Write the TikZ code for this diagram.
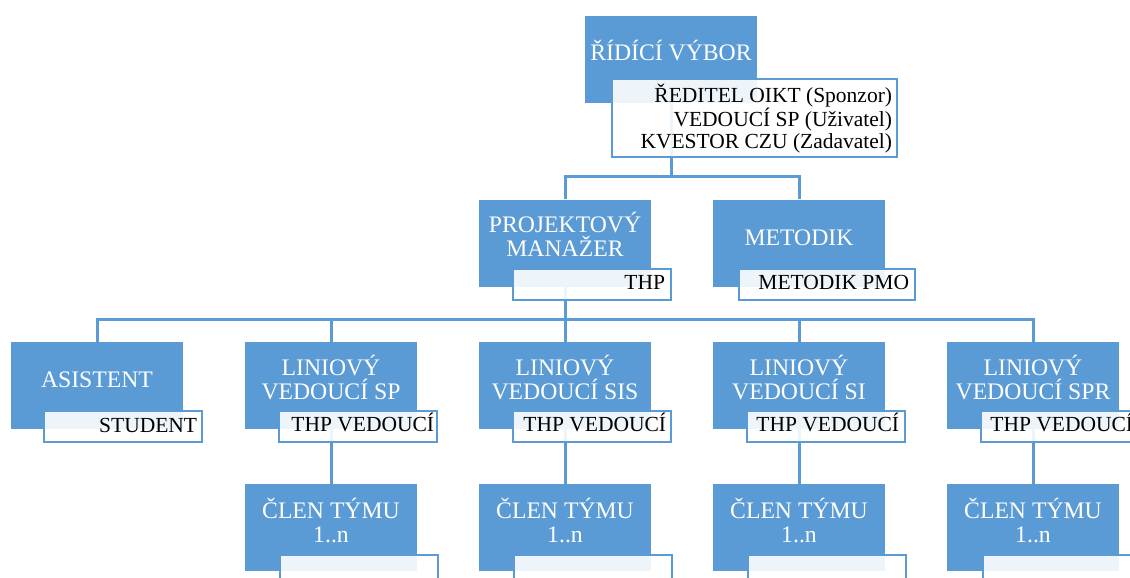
\documentclass[tikz,border=0pt]{standalone}
\usepackage{fontspec}
\setmainfont{Liberation Serif}
\usetikzlibrary{backgrounds}
\definecolor{accent}{HTML}{5B9BD5}
% invisible strut fixing the height of a label's first line
\newcommand{\fl}{\rule{0pt}{24pt}}
\newcommand{\fb}{\rule{0pt}{20pt}}

\begin{document}
\begin{tikzpicture}[x=1pt,y=-1pt,
  conn/.style={draw=accent,line width=3pt},
  rolebox/.style={rectangle,fill=accent,minimum width=172pt,minimum height=87pt,inner sep=0pt},
  namebox/.style={rectangle,fill=white,fill opacity=0.9,draw=accent,line width=2.3pt,
    inner sep=0pt,anchor=north west,minimum height=31pt,minimum width=158pt},
  roletext/.style={text=white,font=\fontsize{23.7}{24}\selectfont,align=center,inner sep=0pt,anchor=north},
  nametext/.style={text=black,font=\fontsize{21.5}{22.5}\selectfont,inner sep=0pt,anchor=base east},
]
\useasboundingbox (0,0) rectangle (1130,578);
\clip (0,0) rectangle (1130,578);

% role boxes
\node[rolebox] (rv)   at (671,59.5) {};
\node[rolebox] (pm)   at (565,243) {};
\node[rolebox] (met)  at (799,243) {};
\node[rolebox] (asi)  at (97,385.5) {};
\node[rolebox] (sp)   at (331,385.5) {};
\node[rolebox] (sis)  at (565,385.5) {};
\node[rolebox] (si)   at (799,385.5) {};
\node[rolebox] (spr)  at (1033,385.5) {};
\node[rolebox] (csp)  at (331,527.5) {};
\node[rolebox] (csis) at (565,527.5) {};
\node[rolebox] (csi)  at (799,527.5) {};
\node[rolebox] (cspr) at (1033,527.5) {};

% name boxes
\node[namebox,minimum width=285pt,minimum height=78pt] (rvw) at (611,78) {};
\node[namebox] (pmw)   at (512,268) {};
\node[namebox,minimum width=176pt] (metw) at (738,268) {};
\node[namebox] (asiw)  at (43,410) {};
\node[namebox] (spw)   at (278,410) {};
\node[namebox] (sisw)  at (512,410) {};
\node[namebox] (siw)   at (746,410) {};
\node[namebox] (sprw)  at (980,410) {};
\node[namebox] (cspw)  at (279,554) {};
\node[namebox] (csisw) at (513,554) {};
\node[namebox] (csiw)  at (747,554) {};
\node[namebox] (csprw) at (982,554) {};

% role titles
\node[roletext] (rvt)   at ([yshift=-21pt]rv.north)  {\fl ŘÍDÍCÍ VÝBOR};
\node[roletext] (pmt)   at ([yshift=-9pt]pm.north)   {\fl PROJEKTOVÝ\\MANAŽER};
\node[roletext] (mett)  at ([yshift=-22pt]met.north) {\fl METODIK};
\node[roletext] (asit)  at ([yshift=-21pt]asi.north) {\fl ASISTENT};
\node[roletext] (spt)   at ([yshift=-9pt]sp.north)   {\fl LINIOVÝ\\VEDOUCÍ SP};
\node[roletext] (sist)  at ([yshift=-9pt]sis.north)  {\fl LINIOVÝ\\VEDOUCÍ SIS};
\node[roletext] (sit)   at ([yshift=-9pt]si.north)   {\fl LINIOVÝ\\VEDOUCÍ SI};
\node[roletext] (sprt)  at ([yshift=-9pt]spr.north)  {\fl LINIOVÝ\\VEDOUCÍ SPR};
\node[roletext] (cspt)  at ([yshift=-10pt]csp.north)  {\fl ČLEN TÝMU\\1..n};
\node[roletext] (csist) at ([yshift=-10pt]csis.north) {\fl ČLEN TÝMU\\1..n};
\node[roletext] (csit)  at ([yshift=-10pt]csi.north)  {\fl ČLEN TÝMU\\1..n};
\node[roletext] (csprt) at ([yshift=-10pt]cspr.north) {\fl ČLEN TÝMU\\1..n};

% names of the people in each role
\node[nametext,anchor=north east,align=right] (rvn) at ([xshift=-6pt,yshift=-4pt]rvw.north east)
  {\fb ŘEDITEL OIKT (Sponzor)\\VEDOUCÍ SP (Uživatel)\\KVESTOR CZU (Zadavatel)};
\node[nametext] (pmn)  at ([xshift=-7pt,yshift=-21.5pt]pmw.north east)  {THP};
\node[nametext] (metn) at ([xshift=-7pt,yshift=-21.5pt]metw.north east) {METODIK PMO};
\node[nametext] (asin) at ([xshift=-6pt,yshift=-22pt]asiw.north east)   {STUDENT};
\node[nametext] (spn)  at ([xshift=-4pt,yshift=-21.5pt]spw.north east)  {THP VEDOUCÍ};
\node[nametext] (sisn) at ([xshift=-6pt,yshift=-21.5pt]sisw.north east) {THP VEDOUCÍ};
\node[nametext] (sin)  at ([xshift=-7pt,yshift=-21.5pt]siw.north east)  {THP VEDOUCÍ};
\node[nametext] (sprn) at ([xshift=-7pt,yshift=-21.5pt]sprw.north east) {THP VEDOUCÍ};

% reporting lines
\begin{scope}[on background layer]
  \coordinate (bus1) at (671,176);
  \coordinate (bus2) at (565,319);
  \draw[conn] (rv.south) -- (bus1);
  \draw[conn] (pm.north) |- (bus1) -| (met.north);
  \draw[conn] (pm.south) -- (sis.north);
  \draw[conn] (asi.north) |- (bus2) -| (spr.north);
  \draw[conn] (sp.north) -- (sp.north |- bus2);
  \draw[conn] (si.north) -- (si.north |- bus2);
  \draw[conn] (sp.south)  -- (csp.north);
  \draw[conn] (sis.south) -- (csis.north);
  \draw[conn] (si.south)  -- (csi.north);
  \draw[conn] (spr.south) -- (cspr.north);
\end{scope}
\end{tikzpicture}
\end{document}
